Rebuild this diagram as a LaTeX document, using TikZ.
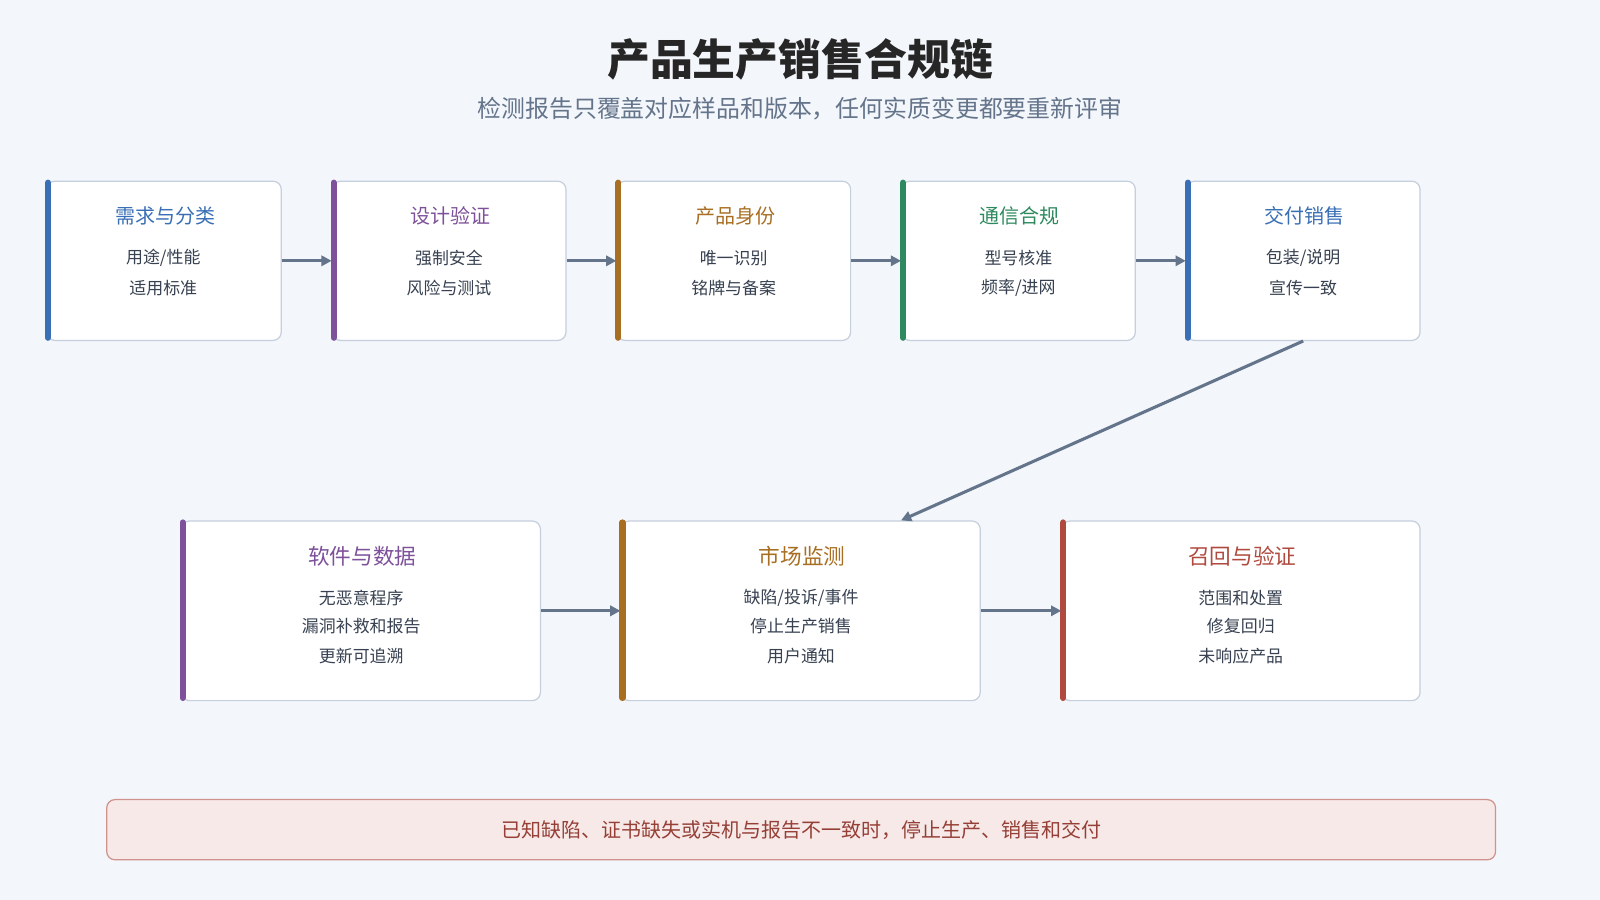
\documentclass[tikz,border=0pt]{standalone}
\usepackage{fontspec}
\setmainfont{Noto Sans CJK SC}
\usetikzlibrary{arrows.meta}
\definecolor{bg}{HTML}{F3F6FA}
\definecolor{bd}{HTML}{C5CFDD}
\definecolor{cb}{HTML}{3A6FB5}
\definecolor{cp}{HTML}{7E519B}
\definecolor{cn}{HTML}{A86E22}
\definecolor{cg}{HTML}{2E8A5E}
\definecolor{cr}{HTML}{B04A3F}
\definecolor{ar}{HTML}{64748B}
\definecolor{tx}{HTML}{374151}
\tikzset{
 box/.style={draw=bd,fill=white,rounded corners=4pt,line width=0.6pt,anchor=north west,inner sep=0},
 bar/.style={line width=3pt,line cap=round},
 ttl/.style={font=\fontsize{10.6}{12}\selectfont},
 ttls/.style={font=\fontsize{9.8}{11}\selectfont},
 ln/.style={font=\fontsize{8.3}{9}\selectfont,text=tx},
 arr/.style={draw=ar,line width=1.5pt,-{Triangle[length=5pt,width=5pt]}}
}
\newcommand\mybox[8]{% name, x1,y1,x2,y2,color,title,style
 \node[box,minimum width={(#4-#2)*0.5pt},minimum height={(#5-#3)*0.5pt}] (#1) at (#2,#3) {};
 \draw[bar,#6] (#2+2,#3+2) -- (#2+2,#5-2);
 \node[#8,text=#6] (#1t) at ({(#2+#4)/2+2},#3+35) {#7};
}
\begin{document}
\begin{tikzpicture}[x=0.5pt,y=-0.5pt]
\fill[bg] (0,0) rectangle (1568,882);
\useasboundingbox (0,0) rectangle (1568,882);
\node[font=\fontsize{21}{24}\selectfont\bfseries,text=black!85] (title) at (784,58) {产品生产销售合规链};
\node[font=\fontsize{11.7}{13}\selectfont,text=ar] (sub) at (784,106) {检测报告只覆盖对应样品和版本，任何实质变更都要重新评审};

\mybox{a}{45}{177}{275}{333}{cb}{需求与分类}{ttls}
\node[ln] at (160,253) {用途/性能}; \node[ln] at (160,282) {适用标准};
\mybox{b}{325}{177}{554}{333}{cp}{设计验证}{ttls}
\node[ln] at (440,253) {强制安全}; \node[ln] at (440,282) {风险与测试};
\mybox{c}{604}{177}{833}{333}{cn}{产品身份}{ttls}
\node[ln] at (719,253) {唯一识别}; \node[ln] at (719,282) {铭牌与备案};
\mybox{d}{883}{177}{1112}{333}{cg}{通信合规}{ttls}
\node[ln] at (998,253) {型号核准}; \node[ln] at (998,282) {频率/进网};
\mybox{e}{1162}{177}{1391}{333}{cb}{交付销售}{ttls}
\node[ln] at (1277,253) {包装/说明}; \node[ln] at (1277,282) {宣传一致};

\mybox{f}{177}{510}{529}{686}{cp}{软件与数据}{ttl}
\node[ln] at (354,586) {无恶意程序}; \node[ln] at (354,614) {漏洞补救和报告}; \node[ln] at (354,643) {更新可追溯};
\mybox{g}{608}{510}{960}{686}{cn}{市场监测}{ttl}
\node[ln] at (785,586) {缺陷/投诉/事件}; \node[ln] at (785,614) {停止生产销售}; \node[ln] at (785,643) {用户通知};
\mybox{h}{1040}{510}{1391}{686}{cr}{召回与验证}{ttl}
\node[ln] at (1216,586) {范围和处置}; \node[ln] at (1216,614) {修复回归}; \node[ln] at (1216,643) {未响应产品};

\draw[arr] (a.east) -- (b.west);
\draw[arr] (b.east) -- (c.west);
\draw[arr] (c.east) -- (d.west);
\draw[arr] (d.east) -- (e.west);
\draw[arr] (e.south) -- (883,510);
\draw[arr] (f.east) -- (g.west);
\draw[arr] (g.east) -- (h.west);

\node[draw=cr!60,fill=cr!12,rounded corners=4pt,line width=0.6pt,anchor=north west,minimum width=680.5pt,minimum height=29.5pt,inner sep=0] (ban) at (104,783) {};
\node[font=\fontsize{9.8}{11}\selectfont,text=cr!85!black] at (ban.center) {已知缺陷、证书缺失或实机与报告不一致时，停止生产、销售和交付};
\end{tikzpicture}
\end{document}
